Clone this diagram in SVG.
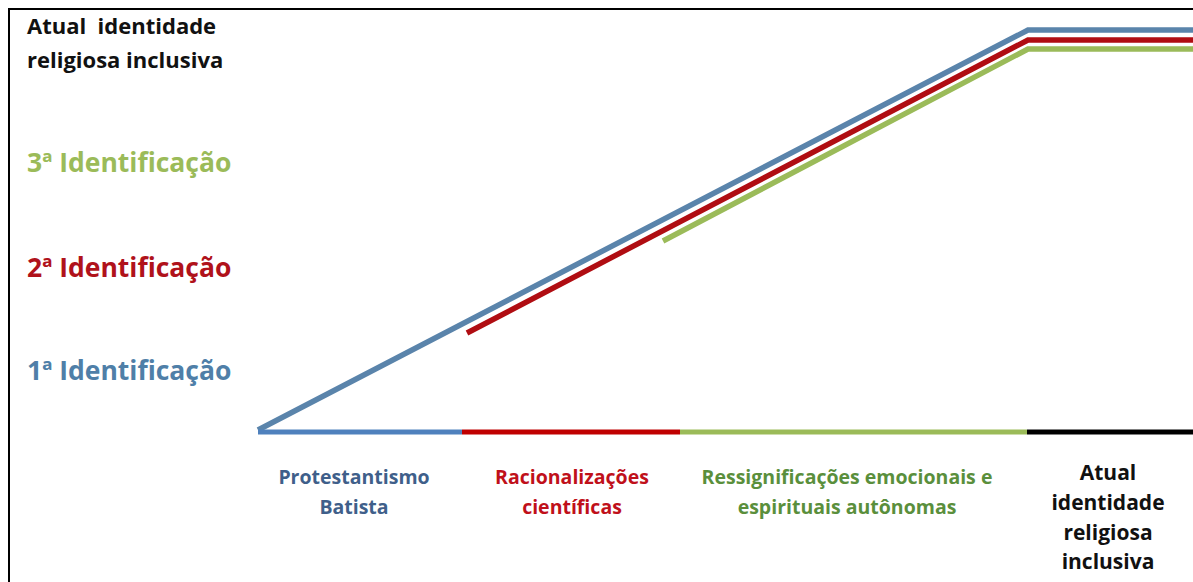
<svg xmlns="http://www.w3.org/2000/svg" width="1193" height="582" viewBox="0 0 1193 582">
<style>
.t{font-family:"Open Sans","Liberation Sans",sans-serif;font-weight:700}
.lab{font-size:22px}
.id{font-size:26.5px}
.bot{font-size:19.5px;text-anchor:middle}
.big{font-size:21px}
.ln{fill:none;stroke-width:5.5;stroke-linejoin:miter}
</style>
<rect width="1193" height="582" fill="#fff"/>
<path d="M9,582 V9 H1193" fill="none" stroke="#000" stroke-width="2"/>
<g id="connectors">
<polyline class="ln" points="258,430 1028,30 1193,30" stroke="#5a84ab"/>
<polyline class="ln" points="467,333 1028,40 1193,40" stroke="#b00d12"/>
<polyline class="ln" points="663,241 1028,49 1193,49" stroke="#9bbb59"/>
<line x1="258" y1="432" x2="462" y2="432" stroke="#4f81bd" stroke-width="5"/>
<line x1="462" y1="432" x2="680" y2="432" stroke="#c00000" stroke-width="5"/>
<line x1="680" y1="432" x2="1027" y2="432" stroke="#9bbb59" stroke-width="5"/>
<line x1="1027" y1="432" x2="1193" y2="432" stroke="#000" stroke-width="5"/>
</g>
<g id="title"><text class="t lab" x="27" y="34" fill="#111">Atual&#160; identidade</text><text class="t lab" x="27" y="68" fill="#111">religiosa inclusiva</text></g>
<g id="id3"><text class="t id" x="27" y="172" fill="#9bbb59">3ª Identificação</text></g>
<g id="id2"><text class="t id" x="27" y="277" fill="#b0121b">2ª Identificação</text></g>
<g id="id1"><text class="t id" x="27" y="380" fill="#4f7fa8">1ª Identificação</text></g>
<g id="protestantismo"><text class="t bot" x="354" y="484" fill="#3f5f8a">Protestantismo</text><text class="t bot" x="354" y="514" fill="#3f5f8a">Batista</text></g>
<g id="racionalizacoes"><text class="t bot" x="572" y="484" fill="#c0101a">Racionalizações</text><text class="t bot" x="572" y="514" fill="#c0101a">científicas</text></g>
<g id="ressignificacoes"><text class="t bot" x="847" y="484" fill="#5a8f3c">Ressignificações emocionais e</text><text class="t bot" x="847" y="514" fill="#5a8f3c">espirituais autônomas</text></g>
<g id="atual"><text class="t bot big" x="1108" y="480" fill="#111">Atual</text><text class="t bot big" x="1108" y="510" fill="#111">identidade</text><text class="t bot big" x="1108" y="540" fill="#111">religiosa</text><text class="t bot big" x="1108" y="569" fill="#111">inclusiva</text></g>
</svg>
